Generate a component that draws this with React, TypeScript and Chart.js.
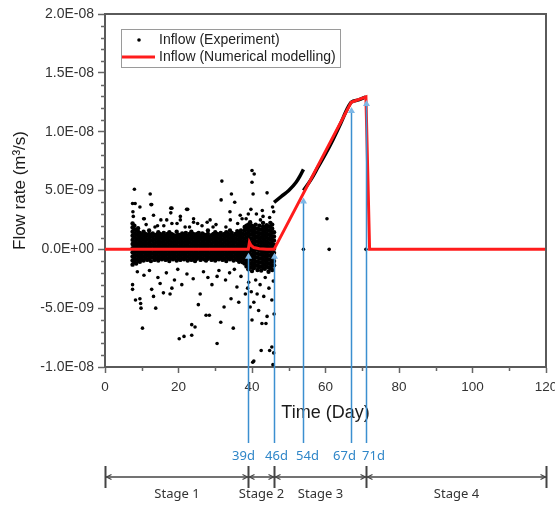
import React, { useEffect, useRef } from "react";
import { Chart, registerables } from "chart.js";

Chart.register(...registerables);

// ---- data (flow values in units of 1E-09 m3/s) ----
const FLOW_UNIT = 1e-9;

// dense experimental band: [day, values...]
const EXP_BAND: number[][] = [
  [7.5, -1.3, -0.95, -0.6, -0.25, 0.1, 0.45, 0.8, 1.15, 1.5, 1.85, 2.2],
  [8, -1.1, -0.75, -0.4, -0.05, 0.3, 0.65, 1.0, 1.35, 1.7, 2.0],
  [8.5, -1.2, -0.85, -0.5, -0.15, 0.2, 0.55, 0.9, 1.25, 1.6],
  [9, -0.95, -0.6, -0.25, 0.1, 0.45, 0.8, 1.15, 1.5, 1.8],
  [9.5, -1.05, -0.7, -0.35, 0.0, 0.35, 0.7, 1.05, 1.4],
  [10, -0.85, -0.5, -0.15, 0.2, 0.55, 0.9, 1.25],
  [10.5, -0.95, -0.6, -0.25, 0.1, 0.45, 0.8, 1.15, 1.5],
  [11, -0.75, -0.4, -0.05, 0.3, 0.65, 1.0, 1.3],
  [11.5, -0.9, -0.55, -0.2, 0.15, 0.5, 0.85, 1.2],
  [12, -0.8, -0.45, -0.1, 0.25, 0.6, 0.95, 1.3, 1.6],
  [12.5, -1.0, -0.65, -0.3, 0.05, 0.4, 0.75, 1.1],
  [13, -0.7, -0.35, 0.0, 0.35, 0.7, 1.05, 1.35],
  [13.5, -0.9, -0.55, -0.2, 0.15, 0.5, 0.85, 1.2],
  [14, -0.8, -0.45, -0.1, 0.25, 0.6, 0.95, 1.25],
  [14.5, -0.95, -0.6, -0.25, 0.1, 0.45, 0.8, 1.15, 1.45],
  [15, -0.75, -0.4, -0.05, 0.3, 0.65, 1.0, 1.3],
  [15.5, -0.85, -0.5, -0.15, 0.2, 0.55, 0.9, 1.2],
  [16, -0.7, -0.35, 0.0, 0.35, 0.7, 1.05, 1.4],
  [16.5, -0.9, -0.55, -0.2, 0.15, 0.5, 0.85, 1.15],
  [17, -0.8, -0.45, -0.1, 0.25, 0.6, 0.95, 1.3],
  [17.5, -1.0, -0.65, -0.3, 0.05, 0.4, 0.75, 1.1, 1.45],
  [18, -0.75, -0.4, -0.05, 0.3, 0.65, 1.0, 1.3],
  [18.5, -0.85, -0.5, -0.15, 0.2, 0.55, 0.9, 1.25],
  [19, -0.7, -0.35, 0.0, 0.35, 0.7, 1.05],
  [19.5, -0.95, -0.6, -0.25, 0.1, 0.45, 0.8, 1.15, 1.5],
  [20, -0.8, -0.45, -0.1, 0.25, 0.6, 0.95, 1.25],
  [20.5, -0.9, -0.55, -0.2, 0.15, 0.5, 0.85, 1.2],
  [21, -0.75, -0.4, -0.05, 0.3, 0.65, 1.0, 1.35],
  [21.5, -0.85, -0.5, -0.15, 0.2, 0.55, 0.9, 1.2],
  [22, -0.7, -0.35, 0.0, 0.35, 0.7, 1.05, 1.4],
  [22.5, -0.95, -0.6, -0.25, 0.1, 0.45, 0.8, 1.15],
  [23, -0.8, -0.45, -0.1, 0.25, 0.6, 0.95, 1.3],
  [23.5, -0.9, -0.55, -0.2, 0.15, 0.5, 0.85, 1.2, 1.5],
  [24, -0.75, -0.4, -0.05, 0.3, 0.65, 1.0, 1.3],
  [24.5, -1.0, -0.65, -0.3, 0.05, 0.4, 0.75, 1.1],
  [25, -0.8, -0.45, -0.1, 0.25, 0.6, 0.95, 1.3],
  [25.5, -0.7, -0.35, 0.0, 0.35, 0.7, 1.05, 1.4],
  [26, -0.9, -0.55, -0.2, 0.15, 0.5, 0.85, 1.15],
  [26.5, -0.75, -0.4, -0.05, 0.3, 0.65, 1.0, 1.35],
  [27, -0.85, -0.5, -0.15, 0.2, 0.55, 0.9, 1.25],
  [27.5, -0.95, -0.6, -0.25, 0.1, 0.45, 0.8, 1.1],
  [28, -0.8, -0.45, -0.1, 0.25, 0.6, 0.95, 1.3, 1.6],
  [28.5, -0.7, -0.35, 0.0, 0.35, 0.7, 1.05],
  [29, -0.9, -0.55, -0.2, 0.15, 0.5, 0.85, 1.2],
  [29.5, -0.8, -0.45, -0.1, 0.25, 0.6, 0.95, 1.3],
  [30, -0.95, -0.6, -0.25, 0.1, 0.45, 0.8, 1.15, 1.45],
  [30.5, -0.75, -0.4, -0.05, 0.3, 0.65, 1.0, 1.3],
  [31, -0.85, -0.5, -0.15, 0.2, 0.55, 0.9, 1.25],
  [31.5, -0.7, -0.35, 0.0, 0.35, 0.7, 1.05, 1.4],
  [32, -0.9, -0.55, -0.2, 0.15, 0.5, 0.85, 1.2],
  [32.5, -0.8, -0.45, -0.1, 0.25, 0.6, 0.95, 1.3],
  [33, -1.0, -0.65, -0.3, 0.05, 0.4, 0.75, 1.1, 1.45],
  [33.5, -0.75, -0.4, -0.05, 0.3, 0.65, 1.0, 1.3],
  [34, -0.85, -0.5, -0.15, 0.2, 0.55, 0.9, 1.25, 1.6],
  [34.5, -0.7, -0.35, 0.0, 0.35, 0.7, 1.05, 1.4],
  [35, -0.95, -0.6, -0.25, 0.1, 0.45, 0.8, 1.15],
  [35.5, -0.8, -0.45, -0.1, 0.25, 0.6, 0.95, 1.3],
  [36, -0.9, -0.55, -0.2, 0.15, 0.5, 0.85, 1.2, 1.55],
  [36.5, -1.05, -0.7, -0.35, 0.0, 0.35, 0.7, 1.05, 1.4],
  [37, -0.85, -0.5, -0.15, 0.2, 0.55, 0.9, 1.25, 1.6],
  [37.5, -1.1, -0.75, -0.4, -0.05, 0.3, 0.65, 1.0, 1.35],
  [38, -1.2, -0.85, -0.5, -0.15, 0.2, 0.55, 0.9, 1.25, 1.6, 1.9],
  [38.5, -1.45, -1.1, -0.75, -0.4, -0.05, 0.3, 0.65, 1.0, 1.35, 1.7, 2.0],
  [39, -1.7, -1.35, -1.0, -0.65, -0.3, 0.05, 0.4, 0.75, 1.1, 1.45, 1.8, 2.1],
  [39.5, -1.55, -1.2, -0.85, -0.5, -0.15, 0.2, 0.55, 0.9, 1.25, 1.6, 1.95, 2.3],
  [40, -1.85, -1.5, -1.15, -0.8, -0.45, -0.1, 0.25, 0.6, 0.95, 1.3, 1.65, 2.0],
  [40.5, -1.6, -1.25, -0.9, -0.55, -0.2, 0.15, 0.5, 0.85, 1.2, 1.55, 1.9],
  [41, -1.4, -1.05, -0.7, -0.35, 0.0, 0.35, 0.7, 1.05, 1.4, 1.75, 2.1],
  [41.5, -1.75, -1.4, -1.05, -0.7, -0.35, 0.0, 0.35, 0.7, 1.05, 1.4, 1.75],
  [42, -1.5, -1.15, -0.8, -0.45, -0.1, 0.25, 0.6, 0.95, 1.3, 1.65, 2.0],
  [42.5, -1.8, -1.45, -1.1, -0.75, -0.4, -0.05, 0.3, 0.65, 1.0, 1.35, 1.7],
  [43, -1.55, -1.2, -0.85, -0.5, -0.15, 0.2, 0.55, 0.9, 1.25, 1.6, 1.95, 2.25],
  [43.5, -1.65, -1.3, -0.95, -0.6, -0.25, 0.1, 0.45, 0.8, 1.15, 1.5, 1.85],
  [44, -1.45, -1.1, -0.75, -0.4, -0.05, 0.3, 0.65, 1.0, 1.35, 1.7, 2.05],
  [44.5, -1.9, -1.55, -1.2, -0.85, -0.5, -0.15, 0.2, 0.55, 0.9, 1.25, 1.6, 1.95],
  [45, -1.6, -1.25, -0.9, -0.55, -0.2, 0.15, 0.5, 0.85, 1.2, 1.55, 1.9, 2.25],
  [45.5, -1.75, -1.4, -1.05, -0.7, -0.35, 0.0, 0.35, 0.7, 1.05, 1.4, 1.75, 2.1],
  [46, -1.35, -1.0, -0.65, -0.3, 0.05, 0.4, 0.75, 1.1, 1.45],
];

// scattered experimental points: [day, value]
const EXP_SCATTER: number[][] = [
  [8.0, 5.1], [12.3, 4.7], [7.5, 3.9], [7.6, 3.2], [12.5, 3.8], [9.5, 3.6], [17.9, 3.5], [17.9, 3.1],
  [22.5, 3.4], [31.8, 5.8], [31.6, 4.2], [34.4, 4.7], [35.3, 4.0], [34.0, 3.2], [40.0, 6.7], [40.6, 6.4],
  [40.0, 5.7], [40.3, 4.7], [44.1, 4.8], [39.7, 3.4], [45.9, 3.2], [37.3, 2.6], [42.3, 2.5], [34.1, 2.5],
  [24.1, 2.3], [28.6, 2.5], [20.5, 2.5], [15.2, 2.5], [10.7, 2.6], [7.7, 2.8], [8.2, 3.9], [12.7, 3.8],
  [18.2, 3.5], [22.2, 3.4], [10.5, 2.6], [13.2, 2.9], [16.8, 2.5], [18.2, 2.2], [20.5, 2.8], [24.1, 2.6],
  [11.2, 2.1], [14.3, 2.0], [19.6, 2.2], [23.0, 1.9], [26.4, 2.0], [27.8, 2.3], [30.2, 2.1], [32.9, 1.9],
  [36.1, 2.2], [38.4, 2.6], [41.2, 3.0], [43.0, 2.8], [44.8, 2.7], [45.6, 3.6], [42.8, 3.3], [39.0, 3.0],
  [36.8, 2.9], [29.4, 1.9], [25.2, 2.2], [21.8, 1.9], [16.0, 2.0], [13.6, 1.9],
  [7.5, -3.0], [7.5, -3.4], [9.5, -4.2], [9.7, -4.6], [10.2, -6.7], [12.7, -3.4], [13.2, -4.0], [13.8, -5.0],
  [15.0, -2.9], [15.9, -3.7], [18.2, -3.3], [17.7, -3.8], [20.2, -7.6], [20.9, -3.0], [23.6, -6.4], [24.5, -6.6],
  [23.6, -7.3], [25.4, -4.7], [27.5, -5.6], [28.4, -5.6], [25.9, -3.8], [29.1, -3.0], [30.5, -8.0], [31.5, -6.2],
  [32.4, -4.9], [34.9, -6.7], [35.9, -3.2], [36.4, -4.5], [38.2, -3.8], [39.5, -4.9], [40.0, -6.0], [40.5, -4.5],
  [41.4, -3.8], [42.7, -6.3], [43.2, -4.0], [44.1, -5.7], [40.5, -9.5], [42.5, -8.6], [44.8, -8.6], [43.8, -6.3],
  [45.4, -8.3], [45.4, -4.3], [41.8, -5.2], [39.1, -2.8], [34.3, -4.2], [30.5, -2.3], [21.5, -7.4], [8.3, -4.3],
  [9.8, -5.0], [40.2, -9.6], [45.7, -9.8], [45.9, -8.8],
  [8.8, -1.9], [10.6, -2.2], [12.1, -1.8], [14.4, -2.4], [16.7, -2.0], [18.9, -2.6], [19.8, -1.7], [22.3, -2.1],
  [24.0, -2.5], [26.8, -1.9], [28.0, -2.4], [31.0, -1.8], [32.8, -2.6], [33.9, -2.0], [35.2, -1.7], [37.0, -2.3],
  [38.8, -3.3], [41.0, -2.6], [42.2, -3.0], [43.6, -2.4], [44.6, -3.3], [45.8, -2.7], [39.8, -3.6], [46.0, -5.5],
  [60.4, 2.6], [54.0, 0.0], [61.0, 0.0], [71.0, 0.0],
];

// continuous experimental records (stage 3)
const EXP_CURVE1_DAYS = [46, 48, 50, 52, 53, 54];
const EXP_CURVE1_VALUES = [4.0, 4.5, 5.0, 5.7, 6.2, 6.8];
const EXP_CURVE2_DAYS = [54, 56, 58, 60, 62, 64, 66, 67, 69, 71];
const EXP_CURVE2_VALUES = [5.0, 5.9, 7.0, 8.1, 9.3, 10.6, 12.0, 12.5, 12.7, 12.95];

// numerical model
const MODEL_DAYS = [0, 39, 39.3, 39.7, 40.5, 42, 44, 46, 67, 71, 72, 120];
const MODEL_VALUES = [0, 0, 0.6, 0.35, 0.15, 0.05, 0, 0, 12.5, 12.95, 0, 0];

// annotations
const ARROW_DAYS = [39, 46, 54, 67, 71];
const ARROW_TIPS = [-0.3, -0.3, 4.4, 12.1, 12.7];
const ARROW_LABELS = ["39d", "46d", "54d", "67d", "71d"];
const ARROW_LABEL_SHIFT = [-5, 2, 4, -7, 7];
const STAGE_BOUNDS = [0, 39, 46, 71, 120];
const STAGE_LABELS = ["Stage 1", "Stage 2", "Stage 3", "Stage 4"];

const LEGEND_LABELS = ["Inflow (Experiment)", "Inflow (Numerical modelling)"];

const AXIS_COLOR = "#5a5a5a";
const BLUE = "#3b8fd0";
const BLUE_TEXT = "#2f86c8";
const RED = "#ff1c1c";
const FONT = "'Liberation Sans', Arial, sans-serif";
const FONT2 = "'Noto Sans', 'DejaVu Sans', sans-serif";

function fmtSci(v: number): string {
  const n = v * FLOW_UNIT;
  if (Math.abs(v) < 1e-9) return "0.0E+00";
  const [m, e] = n.toExponential(1).split("e");
  const ei = parseInt(e, 10);
  return m + "E" + (ei < 0 ? "-" : "+") + String(Math.abs(ei)).padStart(2, "0");
}

const decorPlugin = {
  id: "decor",
  afterDraw(chart: any) {
    const { ctx, chartArea: ca, scales } = chart;
    const x = scales.x;
    const y = scales.y;
    ctx.save();

    // frame top/right
    ctx.strokeStyle = AXIS_COLOR;
    ctx.lineWidth = 2;
    ctx.beginPath();
    ctx.moveTo(ca.left, ca.top);
    ctx.lineTo(ca.right, ca.top);
    ctx.lineTo(ca.right, ca.bottom);
    ctx.stroke();

    // minor ticks
    ctx.lineWidth = 1.5;
    ctx.strokeStyle = "#666";
    ctx.beginPath();
    for (let v = -10; v <= 20; v += 1) {
      if (v % 5 === 0) continue;
      const py = Math.round(y.getPixelForValue(v)) + 0.5;
      ctx.moveTo(ca.left - 4, py);
      ctx.lineTo(ca.left, py);
    }
    for (let d = 10; d < 120; d += 20) {
      const px = Math.round(x.getPixelForValue(d)) + 0.5;
      ctx.moveTo(px, ca.bottom);
      ctx.lineTo(px, ca.bottom + 4);
    }
    ctx.stroke();

    // legend
    const lx = ca.left + 16;
    const ly = ca.top + 15;
    ctx.strokeStyle = "#9a9a9a";
    ctx.lineWidth = 1;
    ctx.strokeRect(lx + 0.5, ly + 0.5, 219, 38);
    ctx.fillStyle = "#000";
    ctx.beginPath();
    ctx.arc(lx + 18, ly + 11, 1.8, 0, Math.PI * 2);
    ctx.fill();
    ctx.strokeStyle = RED;
    ctx.lineWidth = 3;
    ctx.beginPath();
    ctx.moveTo(lx + 1, ly + 28);
    ctx.lineTo(lx + 34, ly + 28);
    ctx.stroke();
    ctx.fillStyle = "#222";
    ctx.font = "14px " + FONT;
    ctx.textBaseline = "middle";
    ctx.textAlign = "left";
    ctx.fillText(LEGEND_LABELS[0], lx + 38, ly + 11);
    ctx.fillText(LEGEND_LABELS[1], lx + 38, ly + 28);

    // blue arrows
    const baseY = ca.bottom + 76;
    ctx.font = "13px " + FONT2;
    ctx.textAlign = "center";
    ARROW_DAYS.forEach((d, i) => {
      const px = Math.round(x.getPixelForValue(d)) + 0.5;
      const tip = y.getPixelForValue(ARROW_TIPS[i]);
      ctx.strokeStyle = BLUE;
      ctx.lineWidth = 1.5;
      ctx.beginPath();
      ctx.moveTo(px, baseY);
      ctx.lineTo(px, tip + 3);
      ctx.stroke();
      ctx.fillStyle = "#7db7e6";
      ctx.beginPath();
      ctx.moveTo(px, tip);
      ctx.lineTo(px - 3.5, tip + 6);
      ctx.lineTo(px + 3.5, tip + 6);
      ctx.closePath();
      ctx.fill();
      ctx.fillStyle = BLUE_TEXT;
      ctx.fillText(ARROW_LABELS[i], px + ARROW_LABEL_SHIFT[i], baseY + 13);
    });

    // stage bar
    const barY = ca.bottom + 110;
    ctx.strokeStyle = "#444";
    ctx.fillStyle = "#333";
    ctx.lineWidth = 1.5;
    const xs = STAGE_BOUNDS.map((d) => Math.round(x.getPixelForValue(d)) + 0.5);
    ctx.beginPath();
    ctx.moveTo(xs[0], barY);
    ctx.lineTo(xs[xs.length - 1], barY);
    ctx.stroke();
    ctx.lineWidth = 2;
    ctx.beginPath();
    xs.forEach((px) => {
      ctx.moveTo(px, barY - 11);
      ctx.lineTo(px, barY + 11);
    });
    ctx.stroke();
    ctx.lineWidth = 1.2;
    ctx.beginPath();
    xs.forEach((px, i) => {
      if (i > 0) {
        ctx.moveTo(px - 6, barY - 2.5);
        ctx.lineTo(px - 1, barY);
        ctx.lineTo(px - 6, barY + 2.5);
      }
      if (i < xs.length - 1) {
        ctx.moveTo(px + 6, barY - 2.5);
        ctx.lineTo(px + 1, barY);
        ctx.lineTo(px + 6, barY + 2.5);
      }
    });
    ctx.stroke();
    ctx.font = "13px " + FONT2;
    ctx.textAlign = "center";
    STAGE_LABELS.forEach((s, i) => {
      ctx.fillText(s, (xs[i] + xs[i + 1]) / 2, barY + 17);
    });

    ctx.restore();
  },
};

export default function App() {
  const ref = useRef<HTMLCanvasElement | null>(null);

  useEffect(() => {
    if (!ref.current) return;
    const bandPts: { x: number; y: number }[] = [];
    EXP_BAND.forEach(([d, ...vals]) => vals.forEach((v) => bandPts.push({ x: d, y: v })));
    const scatterPts = EXP_SCATTER.map(([d, v]) => ({ x: d, y: v }));

    const chart = new Chart(ref.current, {
      type: "scatter",
      data: {
        datasets: [
          {
            label: LEGEND_LABELS[1],
            data: MODEL_DAYS.map((d, i) => ({ x: d, y: MODEL_VALUES[i] })),
            showLine: true,
            borderColor: RED,
            borderWidth: 3,
            pointRadius: 0,
            tension: 0,
            order: 0,
          },
          {
            label: LEGEND_LABELS[0],
            data: scatterPts,
            pointRadius: 1.8,
            pointBackgroundColor: "#000",
            pointBorderWidth: 0,
            order: 2,
          },
          {
            label: LEGEND_LABELS[0] + " band",
            data: bandPts,
            pointRadius: 2.2,
            pointBackgroundColor: "#000",
            pointBorderWidth: 0,
            order: 2,
          },
          {
            label: "curve1",
            data: EXP_CURVE1_DAYS.map((d, i) => ({ x: d, y: EXP_CURVE1_VALUES[i] })),
            showLine: true,
            borderColor: "#000",
            borderWidth: 3.5,
            pointRadius: 0,
            cubicInterpolationMode: "monotone",
            order: 1,
          },
          {
            label: "curve2",
            data: EXP_CURVE2_DAYS.map((d, i) => ({ x: d, y: EXP_CURVE2_VALUES[i] })),
            showLine: true,
            borderColor: "#000",
            borderWidth: 3.5,
            pointRadius: 0,
            cubicInterpolationMode: "monotone",
            order: 1,
          },
        ],
      },
      options: {
        responsive: false,
        animation: false,
        events: [],
        layout: { padding: { left: 0, top: 14, right: 9, bottom: 0 } },
        plugins: { legend: { display: false }, tooltip: { enabled: false } },
        scales: {
          x: {
            type: "linear",
            min: 0,
            max: 120,
            border: { display: true, color: AXIS_COLOR, width: 2 },
            grid: { drawOnChartArea: false, drawTicks: true, tickLength: 6, tickColor: "#666", tickWidth: 1.5 },
            ticks: { stepSize: 20, color: "#333", padding: 6, font: { family: FONT, size: 13.5 }, maxRotation: 0 },
            title: {
              display: true,
              text: "Time (Day)",
              color: "#1a1a1a",
              font: { family: FONT, size: 18 },
              padding: { top: 0, bottom: 81 },
            },
            afterFit(scale: any) {
              scale.height = 138;
              scale.paddingLeft = 0;
              scale.paddingRight = 0;
            },
          },
          y: {
            type: "linear",
            min: -10,
            max: 20,
            border: { display: true, color: AXIS_COLOR, width: 2 },
            grid: { drawOnChartArea: false, drawTicks: true, tickLength: 7, tickColor: "#666", tickWidth: 1.5 },
            ticks: {
              stepSize: 5,
              color: "#333",
              padding: 4,
              font: { family: FONT, size: 14 },
              callback: (v: any) => fmtSci(Number(v)),
            },
            title: {
              display: true,
              text: "Flow rate (m³/s)",
              color: "#1a1a1a",
              font: { family: FONT, size: 17 },
              padding: { top: 10, bottom: 0 },
            },
            afterFit(scale: any) {
              scale.width = 105;
              scale.paddingTop = 0;
              scale.paddingBottom = 0;
            },
          },
        },
      },
      plugins: [decorPlugin],
    } as any);
    return () => chart.destroy();
  }, []);

  return (
    <canvas
      ref={ref}
      width={555}
      height={505}
      style={{ position: "fixed", left: 0, top: 0, display: "block", background: "#fff" }}
    />
  );
}
